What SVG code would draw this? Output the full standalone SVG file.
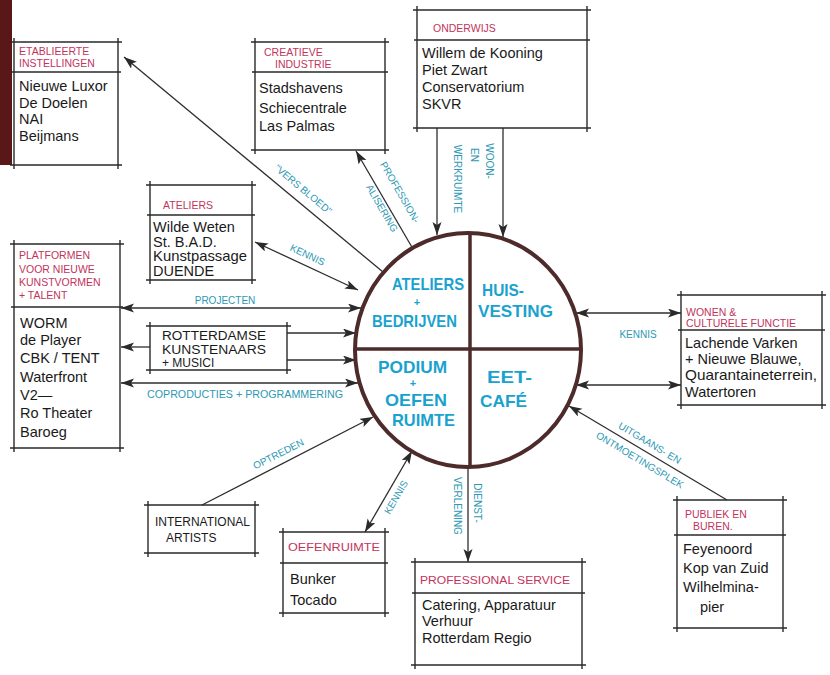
<svg xmlns="http://www.w3.org/2000/svg" width="830" height="675" viewBox="0 0 830 675">
<defs>
<marker id="ah" markerUnits="userSpaceOnUse" markerWidth="14" markerHeight="10" refX="13" refY="4.5" orient="auto-start-reverse">
<path d="M0,0 L13,4.5 L0,9 L3,4.5 z" fill="#2a2a2a"/>
</marker>
</defs>
<style>
.box{fill:none;stroke:#2a2a2a;stroke-width:1.4}
.ttl{font-family:"Liberation Sans",Arial,sans-serif;font-size:10.5px;fill:#c2345c}
.bd{font-family:"Liberation Sans",Arial,sans-serif;font-size:14.5px;fill:#1a1a1a}
.cap{font-family:"Liberation Sans",Arial,sans-serif;font-size:12px;fill:#1a1a1a}
.lbl{font-family:"Liberation Sans",Arial,sans-serif;font-size:10px;fill:#2c98b4;text-anchor:middle}
.ct{font-family:"Liberation Sans",Arial,sans-serif;font-size:17px;font-weight:bold;fill:#1aa2cf}
.pl{font-family:"Liberation Sans",Arial,sans-serif;font-size:11px;font-weight:bold;fill:#1aa2cf;text-anchor:middle}
.cn{fill:none;stroke:#2e2e2e;stroke-width:1.3}
</style>
<rect x="0" y="0" width="830" height="675" fill="#ffffff"/>
<rect x="0" y="0" width="12" height="165" fill="#5a1717"/>

<g id="connectors">
<line class="cn" x1="383" y1="272" x2="124" y2="57" marker-end="url(#ah)"/>
<line class="cn" x1="413" y1="249" x2="356" y2="151" marker-end="url(#ah)"/>
<line class="cn" x1="437" y1="128" x2="437" y2="235" marker-end="url(#ah)"/>
<line class="cn" x1="503" y1="128" x2="503" y2="237" marker-end="url(#ah)"/>
<line class="cn" x1="255" y1="242" x2="358" y2="290" marker-start="url(#ah)" marker-end="url(#ah)"/>
<line class="cn" x1="121" y1="308" x2="361" y2="308" marker-start="url(#ah)" marker-end="url(#ah)"/>
<line class="cn" x1="287" y1="333" x2="356" y2="333" marker-end="url(#ah)"/>
<line class="cn" x1="287" y1="360" x2="356" y2="360" marker-end="url(#ah)"/>
<line class="cn" x1="150" y1="347" x2="121" y2="347" marker-end="url(#ah)"/>
<line class="cn" x1="121" y1="383" x2="358" y2="383" marker-start="url(#ah)" marker-end="url(#ah)"/>
<line class="cn" x1="576" y1="313" x2="681" y2="313" marker-start="url(#ah)" marker-end="url(#ah)"/>
<line class="cn" x1="576" y1="385" x2="681" y2="385" marker-start="url(#ah)" marker-end="url(#ah)"/>
<line class="cn" x1="727" y1="500" x2="569" y2="406" marker-end="url(#ah)"/>
<line class="cn" x1="202" y1="505" x2="373" y2="417" marker-end="url(#ah)"/>
<line class="cn" x1="365" y1="532" x2="412" y2="451" marker-start="url(#ah)" marker-end="url(#ah)"/>
<line class="cn" x1="468" y1="467" x2="468" y2="562" marker-end="url(#ah)"/>

<text class="lbl" transform="translate(301,192) rotate(40)">"VERS BLOED"</text>
<text class="lbl" transform="translate(397,194) rotate(60)">PROFESSION-</text>
<text class="lbl" transform="translate(379,210) rotate(60)">ALISERING</text>
<text class="lbl" transform="translate(486,161) rotate(90)">WOON-</text>
<text class="lbl" transform="translate(471,155) rotate(90)">EN</text>
<text class="lbl" transform="translate(454,179) rotate(90)">WERKRUIMTE</text>
<text class="lbl" transform="translate(306,258) rotate(25)">KENNIS</text>
<text class="lbl" x="225" y="304">PROJECTEN</text>
<text class="lbl" x="245" y="398" textLength="196" lengthAdjust="spacingAndGlyphs">COPRODUCTIES + PROGRAMMERING</text>
<text class="lbl" x="638" y="338">KENNIS</text>
<text class="lbl" transform="translate(648,446) rotate(31)">UITGAANS- EN</text>
<text class="lbl" transform="translate(638,463) rotate(31)">ONTMOETINGSPLEK</text>
<text class="lbl" transform="translate(280,457) rotate(-27)">OPTREDEN</text>
<text class="lbl" transform="translate(399,499) rotate(-60)">KENNIS</text>
<text class="lbl" transform="translate(474,503) rotate(90)">DIENST-</text>
<text class="lbl" transform="translate(454,506) rotate(90)">VERLENING</text>
</g>

<g id="center">
<ellipse cx="468" cy="350" rx="113" ry="117" fill="none" stroke="#4d2b2b" stroke-width="4"/>
<line x1="470" y1="234" x2="470" y2="467" stroke="#4d2b2b" stroke-width="3.5"/>
<line x1="356" y1="349" x2="580" y2="349" stroke="#4d2b2b" stroke-width="3.5"/>
<text class="ct" x="392" y="290" textLength="72" lengthAdjust="spacingAndGlyphs">ATELIERS</text>
<text class="pl" x="417" y="306">+</text>
<text class="ct" x="372" y="327" textLength="85" lengthAdjust="spacingAndGlyphs">BEDRIJVEN</text>
<text class="ct" x="482" y="296" textLength="42" lengthAdjust="spacingAndGlyphs">HUIS-</text>
<text class="ct" x="478" y="317" textLength="75" lengthAdjust="spacingAndGlyphs">VESTING</text>
<text class="ct" x="378" y="373" textLength="69" lengthAdjust="spacingAndGlyphs">PODIUM</text>
<text class="pl" x="413" y="387">+</text>
<text class="ct" x="385" y="406" textLength="62" lengthAdjust="spacingAndGlyphs">OEFEN</text>
<text class="ct" x="392" y="426" textLength="63" lengthAdjust="spacingAndGlyphs">RUIMTE</text>
<text class="ct" x="487" y="383" textLength="45" lengthAdjust="spacingAndGlyphs">EET-</text>
<text class="ct" x="480" y="407" textLength="47" lengthAdjust="spacingAndGlyphs">CAFÉ</text>
</g>

<g id="etablieerde">
<path class="box" d="M10 42 H122 M10 165 H122 M14 38 V169 M118 38 V169 M11 72 H121"/>
<text class="ttl" x="19" y="55">ETABLIEERTE</text>
<text class="ttl" x="19" y="67">INSTELLINGEN</text>
<text class="bd" x="19" y="91">Nieuwe Luxor</text>
<text class="bd" x="19" y="108">De Doelen</text>
<text class="bd" x="19" y="124">NAI</text>
<text class="bd" x="19" y="141">Beijmans</text>
</g>

<g id="creatieve">
<path class="box" d="M251 42 H389 M251 150 H389 M255 38 V154 M385 38 V154 M252 72 H388"/>
<text class="ttl" x="264" y="56">CREATIEVE</text>
<text class="ttl" x="275" y="68">INDUSTRIE</text>
<text class="bd" x="259" y="93" font-size="16">Stadshavens</text>
<text class="bd" x="259" y="113" font-size="16">Schiecentrale</text>
<text class="bd" x="259" y="131" font-size="16">Las Palmas</text>
</g>

<g id="onderwijs">
<path class="box" d="M413 10 H591 M413 128 H591 M417 6 V132 M587 6 V132 M414 40 H590"/>
<text class="ttl" x="433" y="32" font-size="12">ONDERWIJS</text>
<text class="bd" x="422" y="58">Willem de Kooning</text>
<text class="bd" x="422" y="75">Piet Zwart</text>
<text class="bd" x="422" y="92">Conservatorium</text>
<text class="bd" x="422" y="109">SKVR</text>
</g>

<g id="ateliers">
<path class="box" d="M146 185 H256 M146 280 H256 M150 181 V284 M252 181 V284 M147 215 H255"/>
<text class="ttl" x="163" y="209" font-size="11.5">ATELIERS</text>
<text class="bd" x="153" y="232" font-size="12.5">Wilde Weten</text>
<text class="bd" x="153" y="246.5" font-size="12.5">St. B.A.D.</text>
<text class="bd" x="153" y="261" font-size="12.5" textLength="94" lengthAdjust="spacingAndGlyphs">Kunstpassage</text>
<text class="bd" x="153" y="275.5" font-size="12.5">DUENDE</text>
</g>

<g id="platformen">
<path class="box" d="M10 244 H124 M10 448 H124 M14 240 V452 M120 240 V452 M11 307 H123"/>
<text class="ttl" x="19" y="259">PLATFORMEN</text>
<text class="ttl" x="19" y="273">VOOR NIEUWE</text>
<text class="ttl" x="19" y="286">KUNSTVORMEN</text>
<text class="ttl" x="19" y="299">+ TALENT</text>
<text class="bd" x="20" y="328">WORM</text>
<text class="bd" x="20" y="345">de Player</text>
<text class="bd" x="20" y="363">CBK / TENT</text>
<text class="bd" x="20" y="382">Waterfront</text>
<text class="bd" x="20" y="400">V2—</text>
<text class="bd" x="20" y="418">Ro Theater</text>
<text class="bd" x="20" y="437">Baroeg</text>
</g>

<g id="rotterdamse">
<path class="box" d="M146 326 H291 M146 370 H291 M150 322 V374 M287 322 V374"/>
<text class="cap" x="162" y="340" textLength="104" lengthAdjust="spacingAndGlyphs">ROTTERDAMSE</text>
<text class="cap" x="162" y="354" textLength="104" lengthAdjust="spacingAndGlyphs">KUNSTENAARS</text>
<text class="cap" x="162" y="367">+ MUSICI</text>
</g>

<g id="wonen">
<path class="box" d="M677 295 H826 M677 405 H826 M681 291 V409 M822 291 V409 M678 330 H825"/>
<text class="ttl" x="686" y="316">WONEN &amp;</text>
<text class="ttl" x="686" y="327">CULTURELE FUNCTIE</text>
<text class="bd" x="685" y="348" font-size="14">Lachende Varken</text>
<text class="bd" x="685" y="364" font-size="14">+ Nieuwe Blauwe,</text>
<text class="bd" x="685" y="380" font-size="14" textLength="132" lengthAdjust="spacingAndGlyphs">Quarantaineterrein,</text>
<text class="bd" x="685" y="397" font-size="14">Watertoren</text>
</g>

<g id="publiek">
<path class="box" d="M673 500 H787 M673 628 H787 M677 496 V632 M783 496 V632 M674 535 H786"/>
<text class="ttl" x="685" y="518" font-size="11.5">PUBLIEK EN</text>
<text class="ttl" x="693" y="530" font-size="11.5">BUREN.</text>
<text class="bd" x="683" y="554">Feyenoord</text>
<text class="bd" x="683" y="573">Kop van Zuid</text>
<text class="bd" x="683" y="592">Wilhelmina-</text>
<text class="bd" x="700" y="612">pier</text>
</g>

<g id="international">
<path class="box" d="M144 505 H259 M144 553 H259 M148 501 V557 M255 501 V557"/>
<text class="cap" x="155" y="526" font-size="11" textLength="95" lengthAdjust="spacingAndGlyphs">INTERNATIONAL</text>
<text class="cap" x="166" y="542" font-size="14.5">ARTISTS</text>
</g>

<g id="oefenruimte">
<path class="box" d="M279 532 H389 M279 613 H389 M283 528 V617 M385 528 V617 M280 563 H388"/>
<text class="ttl" x="288" y="551" textLength="92" lengthAdjust="spacingAndGlyphs">OEFENRUIMTE</text>
<text class="bd" x="290" y="584">Bunker</text>
<text class="bd" x="290" y="605">Tocado</text>
</g>

<g id="professional">
<path class="box" d="M411 562 H586 M411 665 H586 M415 558 V669 M582 558 V669 M412 593 H585"/>
<text class="ttl" x="420" y="584" textLength="150" lengthAdjust="spacingAndGlyphs">PROFESSIONAL SERVICE</text>
<text class="bd" x="422" y="610">Catering, Apparatuur</text>
<text class="bd" x="422" y="626">Verhuur</text>
<text class="bd" x="422" y="643">Rotterdam Regio</text>
</g>
</svg>
